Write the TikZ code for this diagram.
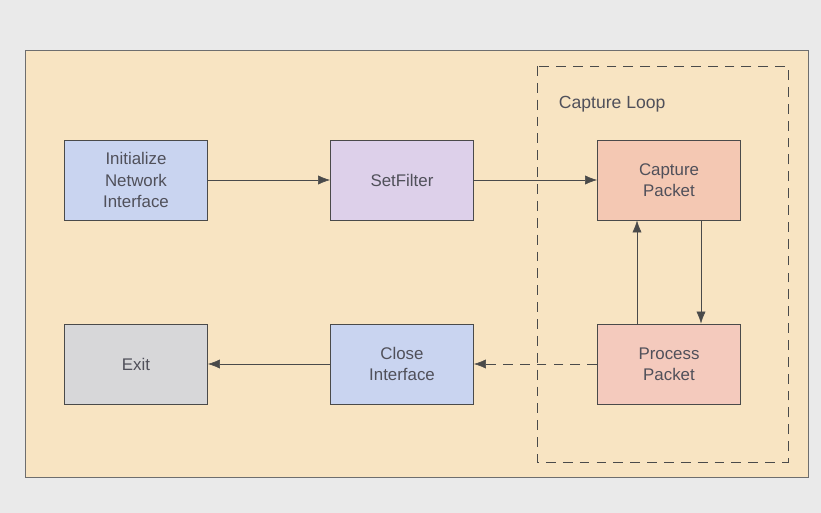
\documentclass[tikz,border=0pt]{standalone}
\usepackage{fontspec}
\setmainfont{Liberation Sans}
\usepackage{tikz}
\usetikzlibrary{shapes,fit,calc,arrows.meta}
\definecolor{fond}{HTML}{EAEAEA}
\definecolor{sable}{HTML}{F8E4C2}
\definecolor{bleu}{HTML}{C9D4F0}
\definecolor{lilas}{HTML}{DDD0EA}
\definecolor{saumon}{HTML}{F4C8B3}
\definecolor{rose}{HTML}{F4CABD}
\definecolor{gris}{HTML}{D7D7D9}
\definecolor{trait}{HTML}{4A4A4A}
\definecolor{texte}{HTML}{50505A}

\tikzset{
  bloc/.style={
    rectangle,
    minimum width=3.575cm,
    minimum height=2cm,
    align=center,
    draw=trait,
    semithick,
    text=texte,
    font=\fontsize{12}{15}\selectfont}
}

\begin{document}
\begin{tikzpicture}[>={Latex[length=8.5pt,width=6.5pt]},thin]
  \useasboundingbox[fill=fond] (0,0) rectangle (20.525,-12.825);
  \draw[fill=sable,draw=trait!80,semithick] (0.625,-1.25) rectangle (20.2,-11.925);
  \draw[dashed,trait,semithick,dash pattern=on 7pt off 5pt] (13.425,-1.65) rectangle (19.7,-11.55);

  \coordinate (I) at (3.4,-4.5);
  \coordinate (S) at (10.05,-4.5);
  \coordinate (C) at (16.725,-4.5);
  \coordinate (P) at (16.725,-9.1);
  \coordinate (F) at (10.05,-9.1);
  \coordinate (E) at (3.4,-9.1);

  \node[text=texte,anchor=west,font=\fontsize{12.5}{15}\selectfont] at (13.85,-2.6) (titre) {Capture Loop};

  \node[bloc,fill=bleu] at (I) (init) {Initialize\\Network\\Interface};
  \node[bloc,fill=lilas] at (S) (filtre) {SetFilter};
  \node[bloc,fill=saumon] at (C) (capture) {Capture\\Packet};
  \node[bloc,fill=rose] at (P) (traite) {Process\\Packet};
  \node[bloc,fill=bleu] at (F) (ferme) {Close\\Interface};
  \node[bloc,fill=gris] at (E) (exit) {Exit};

  \draw[->,trait] (init) -- (filtre);
  \draw[->,trait] (filtre) -- (capture);
  \draw[->,trait] ($(capture.south)+(0.8,0)$) -- ($(traite.north)+(0.8,0)$);
  \draw[->,trait] ($(traite.north)+(-0.8,0)$) -- ($(capture.south)+(-0.8,0)$);
  \draw[->,trait,dashed,dash pattern=on 7pt off 5pt] (traite) -- (ferme);
  \draw[->,trait] (ferme) -- (exit);

\end{tikzpicture}
\end{document}
